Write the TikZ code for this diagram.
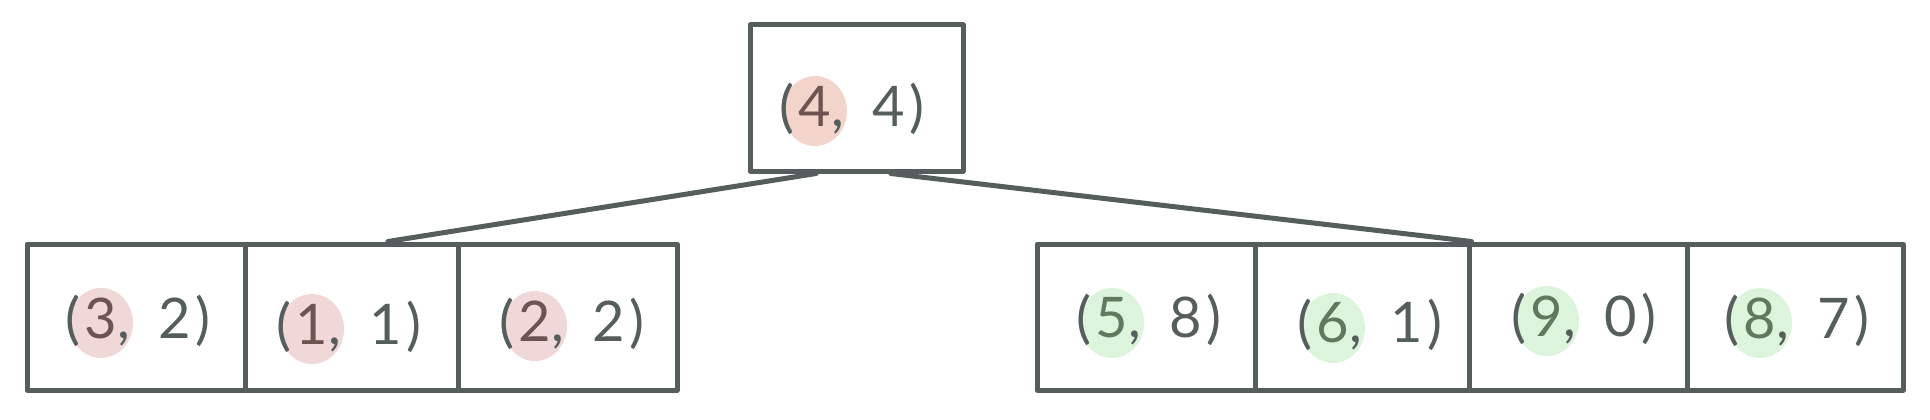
\documentclass[tikz,border=0pt]{standalone}
\usepackage{fontspec}
\setmainfont{Lato}
\usetikzlibrary{calc}
\definecolor{ink}{HTML}{555D5D}
\definecolor{peachhl}{HTML}{F3D4CB}
\definecolor{pinkhl}{HTML}{F0D8D8}
\definecolor{greenhl}{HTML}{DCF4DC}
\definecolor{browntxt}{HTML}{6E5450}
\definecolor{greentxt}{HTML}{5E7A5E}
\newcommand\pairnode[7]{%
  \coordinate (#1c) at (#2,#3);
  \fill[#6] (#1c) ellipse [x radius=32pt, y radius=35pt];
  \node[txt, text=#7] (#1d) at ($(#1c)+(0,-5)$) {#4};
  \node[txt, anchor=base east] (#1o) at ($(#1d.base west)+(-4,0)$) {(};
  \node[txt, anchor=base west] (#1e) at (#1d.base east) {,\hspace{0.5em}#5\hspace{0.08em})};
}
\begin{document}
\begin{tikzpicture}[x=1pt,y=-1pt, line join=round, line cap=round,
  cell/.style={draw=ink, line width=5pt, minimum height=146pt, inner sep=0pt},
  conn/.style={draw=ink, line width=5pt},
  txt/.style={text=ink, font=\fontsize{56}{60}\selectfont, inner sep=0pt}]
\useasboundingbox (0,0) rectangle (1930,420);
% cells
\node[cell, minimum width=213pt] (top) at (856.5,98) {};
\node[cell, minimum width=218pt] (l1) at (136,317) {};
\node[cell, minimum width=213pt] (l2) at (351.5,317) {};
\node[cell, minimum width=219pt] (l3) at (567.5,317) {};
\node[cell, minimum width=218pt] (r1) at (1146,317) {};
\node[cell, minimum width=214pt] (r2) at (1362,317) {};
\node[cell, minimum width=218pt] (r3) at (1578,317) {};
\node[cell, minimum width=216pt] (r4) at (1795,317) {};
% connectors
\draw[conn] ($(top.south west)!0.315!(top.south east)$) -- ($(l2.north west)!0.667!(l2.north east)$);
\draw[conn] ($(top.south west)!0.657!(top.south east)$) -- (r2.north east);
% labels
\pairnode{t}{815}{111}{4}{4}{peachhl}{browntxt}
\pairnode{a}{101}{323}{3}{2}{pinkhl}{browntxt}
\pairnode{b}{312}{329}{1}{1}{pinkhl}{browntxt}
\pairnode{c}{535}{326}{2}{2}{pinkhl}{browntxt}
\pairnode{d}{1112}{323}{5}{8}{greenhl}{greentxt}
\pairnode{e}{1333}{328}{6}{1}{greenhl}{greentxt}
\pairnode{f}{1547}{321}{9}{0}{greenhl}{greentxt}
\pairnode{g}{1760}{323}{8}{7}{greenhl}{greentxt}
\end{tikzpicture}
\end{document}
